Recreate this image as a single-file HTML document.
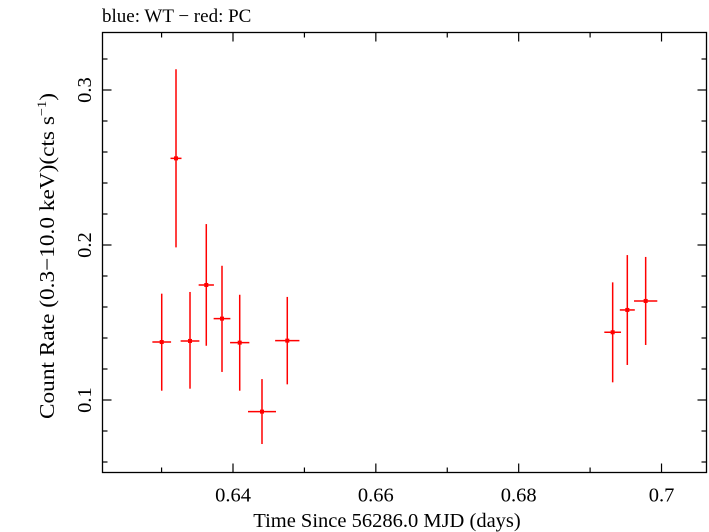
<!DOCTYPE html>
<html><head><meta charset="utf-8"><style>
html,body{margin:0;padding:0;background:#fff;width:709px;height:532px;overflow:hidden}
text{font-family:"Liberation Serif",serif;fill:#000}
</style></head><body>
<svg id="chart" width="709" height="532" xmlns="http://www.w3.org/2000/svg">
<text x="102" y="22" font-size="19">blue: WT − red: PC</text>
<rect x="102.5" y="32.5" width="604" height="440" fill="none" stroke="#000" stroke-width="1.3"/>
<g id="ticks"></g>
<g id="points"></g>
<text x="387" y="527" font-size="20.5" text-anchor="middle">Time Since 56286.0 MJD (days)</text>
<text transform="translate(54,256) rotate(-90)" font-size="21" text-anchor="middle" textLength="326" lengthAdjust="spacingAndGlyphs">Count Rate (0.3−10.0 keV)(cts s<tspan font-size="13" dy="-8">−1</tspan><tspan dy="8">)</tspan></text>
</svg>
<script>
const xTickVals=[0.64,0.66,0.68,0.7];
const xTickLabels=["0.64","0.66","0.68","0.7"];
const yTickVals=[0.1,0.2,0.3];
const yTickLabels=["0.1","0.2","0.3"];
const times=[0.63002,0.63202,0.63398,0.63626,0.63846,0.64094,0.64406,0.64760,0.69316,0.69521,0.69778];
const timeErr=[0.00131,0.00077,0.00131,0.00107,0.00117,0.00135,0.00196,0.0017,0.00117,0.00105,0.00163];
const rates=[0.1374,0.2559,0.1381,0.1742,0.1525,0.1370,0.0925,0.1383,0.1437,0.1581,0.1639];
const rateHi=[0.1686,0.3134,0.1697,0.2135,0.1866,0.1679,0.1135,0.1665,0.1759,0.1935,0.1923];
const rateLo=[0.1060,0.1985,0.1073,0.1350,0.1181,0.1060,0.0716,0.1101,0.1114,0.1226,0.1355];
const L=102.5,R=706.5,T=32.5,B=472.5;
const X0=0.64,XPX=233,XS=7142; const Y0=0.1,YPX=400,YS=1550;
const xs=v=>XPX+(v-X0)*XS, ys=v=>YPX-(v-Y0)*YS;
const NS="http://www.w3.org/2000/svg";
function mk(tag,attrs,parent){const e=document.createElementNS(NS,tag);for(const k in attrs)e.setAttribute(k,attrs[k]);parent.appendChild(e);return e;}
const tg=document.getElementById('ticks');
for(let i=62;i<=70;i++){const v=i/100;const x=xs(v);if(x<L||x>R)continue;const major=(i%2===0);const len=major?9:5;
 const t1=mk('line',{x1:x,x2:x,y1:B,y2:B-len,stroke:'#000','stroke-width':1.2},tg);
 
 const t2=mk('line',{x1:x,x2:x,y1:T,y2:T+len,stroke:'#000','stroke-width':1.2},tg);
 }
xTickVals.forEach((v,i)=>{const t=mk('text',{x:xs(v),y:B+29,'font-size':20.5,'text-anchor':'middle'},tg);t.textContent=xTickLabels[i];
 });
for(let i=3;i<=17;i++){const v=i/50;const y=ys(v);if(y<T||y>B)continue;const major=(i%5===0);const len=major?9:5;
 const t1=mk('line',{x1:L,x2:L+len,y1:y,y2:y,stroke:'#000','stroke-width':1.2},tg);
 
 const t2=mk('line',{x1:R,x2:R-len,y1:y,y2:y,stroke:'#000','stroke-width':1.2},tg);
 }
yTickVals.forEach((v,i)=>{const y=ys(v);const t=mk('text',{transform:`translate(91,${y}) rotate(-90)`,'font-size':20.5,'text-anchor':'middle'},tg);t.textContent=yTickLabels[i];
 });
const pg=document.getElementById('points');
times.forEach((t,i)=>{const g=mk('g',{},pg);
 
 const x=xs(t),y=ys(rates[i]);
 mk('line',{x1:x,x2:x,y1:ys(rateHi[i]),y2:ys(rateLo[i]),stroke:'#f00','stroke-width':1.5},g);
 mk('line',{x1:xs(t-timeErr[i]),x2:xs(t+timeErr[i]),y1:y,y2:y,stroke:'#f00','stroke-width':1.5},g);
 mk('rect',{x:x-2,y:y-2,width:4,height:4,fill:'#f00'},g);});
</script>
</body></html>
